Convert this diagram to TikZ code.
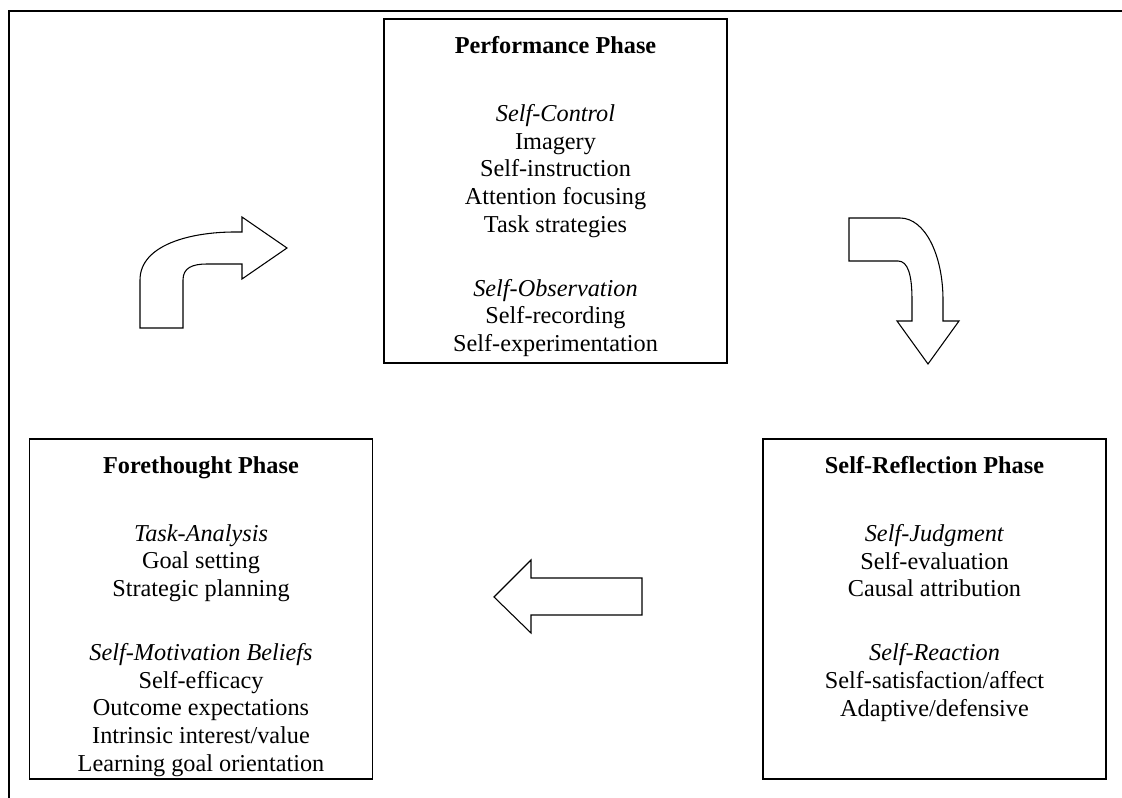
\documentclass[tikz,border=0pt]{standalone}
\usepackage{fontspec}
\setmainfont{Liberation Serif}
\begin{document}
\begin{tikzpicture}[x=0.75pt,y=-0.75pt,
  phasebox/.style={draw=black, line width=1pt, inner sep=0pt, minimum width=257.25pt},
  phasetext/.style={align=center, inner sep=0pt, anchor=north,
    font=\fontsize{18.2}{20.8}\selectfont},
  blockarrow/.style={draw=black, line width=0.8pt, fill=white, line join=miter},
  frameline/.style={draw=black, line width=1.6pt, line join=miter}
]
\useasboundingbox (0,0) rectangle (1122,798);

% open frame along the top and left edges
\draw[frameline] (9,798) -- (9,11) -- (1122,11);

% the three phase boxes
\node[phasebox, minimum height=258pt] (perf) at (555.5,191) {};
\node[phasebox, minimum height=255pt] (fore) at (201,609) {};
\node[phasebox, minimum height=255pt] (refl) at (934.5,609) {};

\node[phasetext] (perftext) at ([yshift=-13.5pt]perf.north) {%
  \textbf{Performance Phase}\\[30pt]
  \textit{Self-Control}\\
  Imagery\\
  Self-instruction\\
  Attention focusing\\
  Task strategies\\[27pt]
  \textit{Self-Observation}\\
  Self-recording\\
  Self-experimentation};

\node[phasetext] (foretext) at ([yshift=-13.5pt]fore.north) {%
  \textbf{Forethought Phase}\\[30pt]
  \textit{Task-Analysis}\\
  Goal setting\\
  Strategic planning\\[27pt]
  \textit{Self-Motivation Beliefs}\\
  Self-efficacy\\
  Outcome expectations\\
  Intrinsic interest/value\\
  Learning goal orientation};

\node[phasetext] (refltext) at ([yshift=-13.5pt]refl.north) {%
  \textbf{Self-Reflection Phase}\\[30pt]
  \textit{Self-Judgment}\\
  Self-evaluation\\
  Causal attribution\\[27pt]
  \textit{Self-Reaction}\\
  Self-satisfaction/affect\\
  Adaptive/defensive};

% curved arrow: forethought -> performance
\draw[blockarrow] (140,328) -- (140,280)
  .. controls (140,245) and (190,232) .. (235,232)
  -- (242,232) -- (242,217) -- (287,248) -- (242,279) -- (242,264) -- (207,264)
  .. controls (192,264) and (183,268) .. (183,280)
  -- (183,328) -- cycle;

% curved arrow: performance -> self-reflection
\draw[blockarrow] (849,218) -- (900,218)
  .. controls (925,218) and (943,255) .. (943,300)
  -- (943,321) -- (959,321) -- (928,364) -- (897,321) -- (912,321) -- (912,300)
  .. controls (912,275) and (908,261) .. (898,261)
  -- (849,261) -- cycle;

% straight arrow: self-reflection -> forethought
\draw[blockarrow] (494,597) -- (531,560) -- (531,578) -- (642,578)
  -- (642,615) -- (531,615) -- (531,633) -- cycle;
\end{tikzpicture}
\end{document}
